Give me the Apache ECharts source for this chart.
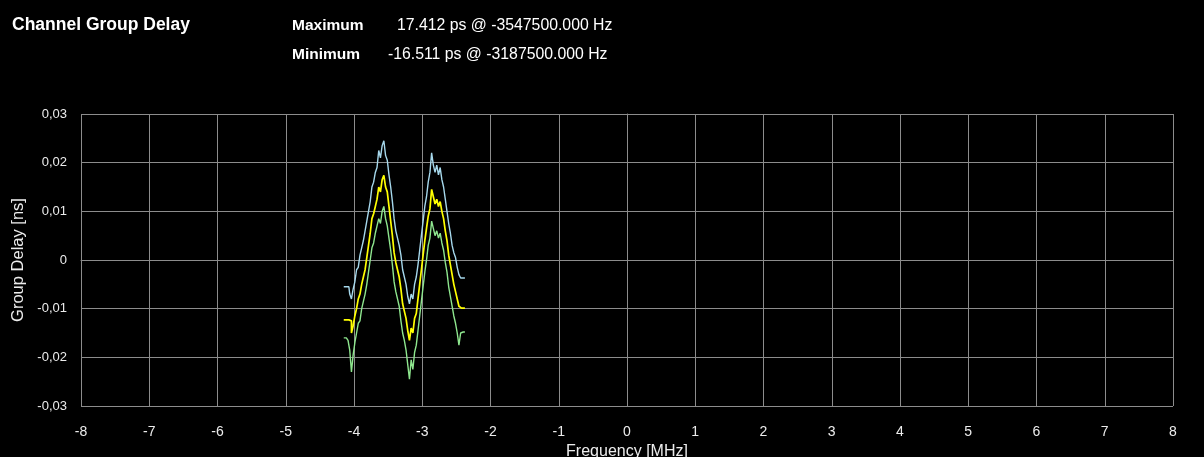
<!DOCTYPE html>
<html>
<head>
<meta charset="utf-8">
<script src="https://cdn.jsdelivr.net/npm/echarts@6/dist/echarts.min.js"></script>
<style>
html,body{margin:0;padding:0;background:#000;}
#chart{width:1204px;height:457px;}
</style>
</head>
<body>
<div id="chart"></div>
<script>
// Frequencies in MHz
var freqMHz = [-4.150,-4.125,-4.100,-4.075,-4.050,-4.025,-4.000,-3.975,-3.950,-3.925,-3.900,-3.875,-3.850,-3.825,-3.800,-3.775,-3.750,-3.725,-3.700,-3.675,-3.650,-3.625,-3.600,-3.575,-3.550,-3.525,-3.500,-3.475,-3.450,-3.425,-3.400,-3.375,-3.350,-3.325,-3.300,-3.275,-3.250,-3.225,-3.200,-3.175,-3.150,-3.125,-3.100,-3.075,-3.050,-3.025,-3.000,-2.975,-2.950,-2.925,-2.900,-2.875,-2.850,-2.825,-2.800,-2.775,-2.750,-2.725,-2.700,-2.675,-2.650,-2.625,-2.600,-2.575,-2.550,-2.525,-2.500,-2.475,-2.450,-2.425,-2.400,-2.375];

// Upper trace (light blue), ns
var upperDelay = [-0.0055,-0.0055,-0.0055,-0.0055,-0.0070,-0.0080,-0.0060,-0.0045,-0.0020,-0.0015,0.0010,0.0025,0.0040,0.0060,0.0080,0.0100,0.0120,0.0150,0.0160,0.0180,0.0190,0.0225,0.0210,0.0235,0.0245,0.0215,0.0205,0.0175,0.0150,0.0120,0.0085,0.0060,0.0045,0.0030,0.0010,-0.0020,-0.0035,-0.0050,-0.0075,-0.0090,-0.0070,-0.0080,-0.0050,-0.0035,-0.0010,0.0020,0.0050,0.0080,0.0110,0.0130,0.0160,0.0180,0.0220,0.0195,0.0180,0.0195,0.0175,0.0190,0.0165,0.0150,0.0125,0.0100,0.0075,0.0055,0.0030,0.0015,0.0005,-0.0015,-0.0030,-0.0037,-0.0037,-0.0037];

// Measured trace (yellow), ns
var meanDelay = [-0.0123,-0.0123,-0.0123,-0.0123,-0.0125,-0.0150,-0.0135,-0.0115,-0.0100,-0.0080,-0.0070,-0.0050,-0.0035,-0.0020,0.0005,0.0030,0.0055,0.0085,0.0095,0.0110,0.0125,0.0150,0.0140,0.0165,0.0174,0.0150,0.0140,0.0110,0.0080,0.0050,0.0015,-0.0005,-0.0020,-0.0035,-0.0060,-0.0090,-0.0105,-0.0120,-0.0145,-0.0165,-0.0140,-0.0150,-0.0120,-0.0110,-0.0080,-0.0050,-0.0020,0.0010,0.0040,0.0065,0.0090,0.0105,0.0145,0.0130,0.0115,0.0125,0.0110,0.0120,0.0100,0.0085,0.0060,0.0040,0.0010,-0.0010,-0.0030,-0.0050,-0.0065,-0.0080,-0.0095,-0.0099,-0.0099,-0.0099];

// Lower trace (light green), ns
var lowerDelay = [-0.0160,-0.0160,-0.0160,-0.0165,-0.0185,-0.0230,-0.0195,-0.0170,-0.0150,-0.0130,-0.0125,-0.0100,-0.0085,-0.0070,-0.0050,-0.0025,0.0000,0.0025,0.0035,0.0055,0.0070,0.0085,0.0075,0.0100,0.0110,0.0085,0.0070,0.0045,0.0020,-0.0010,-0.0045,-0.0065,-0.0080,-0.0095,-0.0125,-0.0150,-0.0165,-0.0185,-0.0215,-0.0245,-0.0205,-0.0225,-0.0190,-0.0175,-0.0145,-0.0115,-0.0085,-0.0055,-0.0025,0.0000,0.0030,0.0045,0.0080,0.0065,0.0050,0.0060,0.0045,0.0055,0.0035,0.0020,-0.0005,-0.0025,-0.0055,-0.0075,-0.0095,-0.0115,-0.0130,-0.0150,-0.0175,-0.0150,-0.0148,-0.0148];

var titleText = 'Channel Group Delay';
var maxLabel = 'Maximum', maxValue = '17.412 ps @ -3547500.000 Hz';
var minLabel = 'Minimum', minValue = '-16.511 ps @ -3187500.000 Hz';
var xAxisName = 'Frequency [MHz]';
var yAxisName = 'Group Delay [ns]';

function pairs(ys){ return freqMHz.map(function(x,i){ return [x, ys[i]]; }); }

var FONT = '"Liberation Sans",Arial,sans-serif';
var chart = echarts.init(document.getElementById('chart'));
var gridColor = '#8c8c8c';
var txt = '#ececec';

chart.setOption({
  backgroundColor: '#000000',
  animation: false,
  grid: { left: 81, right: 31, top: 114, bottom: 51, containLabel: false, outerBoundsMode: 'none' },
  xAxis: {
    type: 'value', min: -8, max: 8, interval: 1,
    name: xAxisName, nameLocation: 'middle', nameGap: 37,
    nameTextStyle: { color: txt, fontFamily: FONT, fontSize: 16 },
    axisLine: { show: true, lineStyle: { color: gridColor, width: 1 } },
    axisTick: { show: true, length: 10, lineStyle: { color: gridColor } },
    axisLabel: { color: txt, fontFamily: FONT, fontSize: 14, margin: 19 },
    splitLine: { show: true, lineStyle: { color: gridColor, width: 1 } }
  },
  yAxis: {
    type: 'value', min: -0.03, max: 0.03, interval: 0.01,
    name: yAxisName, nameLocation: 'middle', nameGap: 53, nameRotate: 90,
    nameTextStyle: { color: txt, fontFamily: FONT, fontSize: 16.5 },
    axisLine: { show: true, lineStyle: { color: gridColor, width: 1 } },
    axisTick: { show: true, length: 11, lineStyle: { color: gridColor } },
    axisLabel: { color: txt, fontFamily: FONT, fontSize: 13, margin: 14,
      formatter: function(v){ var r = Math.round(v*100)/100; return r === 0 ? '0' : r.toFixed(2).replace('.', ','); } },
    splitLine: { show: true, lineStyle: { color: gridColor, width: 1 } }
  },
  graphic: [
    { type: 'text', x: 12, y: 25, style: { text: titleText, fill: '#ffffff', font: 'bold 17.5px ' + FONT, verticalAlign: 'middle' } },
    { type: 'text', x: 292, y: 26, style: { text: maxLabel, fill: '#ffffff', font: 'bold 15.5px ' + FONT, verticalAlign: 'middle' } },
    { type: 'text', x: 397, y: 26, style: { text: maxValue, fill: '#ffffff', font: '15.8px ' + FONT, verticalAlign: 'middle' } },
    { type: 'text', x: 292, y: 55, style: { text: minLabel, fill: '#ffffff', font: 'bold 15.5px ' + FONT, verticalAlign: 'middle' } },
    { type: 'text', x: 388, y: 55, style: { text: minValue, fill: '#ffffff', font: '15.8px ' + FONT, verticalAlign: 'middle' } }
  ],
  series: [
    { type: 'line', name: 'upper', data: pairs(upperDelay), step: 'middle', showSymbol: false,
      lineStyle: { color: '#a6d8ec', width: 1.4 }, z: 2 },
    { type: 'line', name: 'lower', data: pairs(lowerDelay), step: 'middle', showSymbol: false,
      lineStyle: { color: '#8ee68e', width: 1.4 }, z: 3 },
    { type: 'line', name: 'mean', data: pairs(meanDelay), step: 'middle', showSymbol: false,
      lineStyle: { color: '#ffff00', width: 1.7 }, z: 4 }
  ]
});
</script>
</body>
</html>
